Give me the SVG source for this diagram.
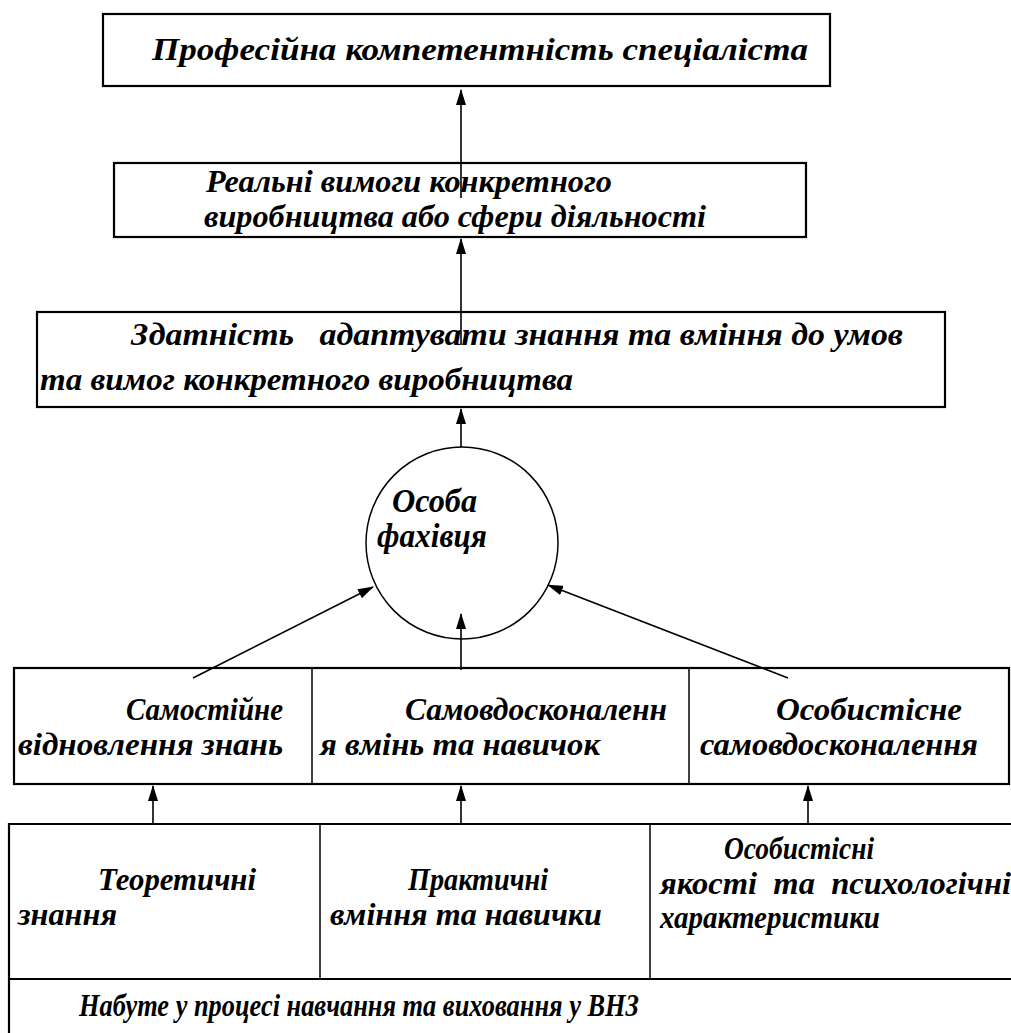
<svg xmlns="http://www.w3.org/2000/svg" width="1011" height="1033" viewBox="0 0 1011 1033">
<defs>
<style>
.box{fill:#fff;stroke:#000;stroke-width:2.2}
.div{stroke:#000;stroke-width:1.5;fill:none}
.con{stroke:#000;stroke-width:1.6;fill:none}
</style>
<marker id="ah" viewBox="0 0 16 10" refX="15" refY="5" markerWidth="16" markerHeight="10" markerUnits="userSpaceOnUse" orient="auto">
<path d="M0,0 L16,5 L0,10 Z" fill="#000"/>
</marker>
</defs>
<rect width="1011" height="1033" fill="#fff"/>
<g font-family="Liberation Serif, serif" font-weight="bold" font-style="italic" font-size="32" fill="#000">
<g id="n1">
<rect class="box" x="103" y="14" width="727" height="72"/>
<text x="152" y="60" textLength="656" lengthAdjust="spacingAndGlyphs">Професійна компетентність спеціаліста</text>
</g>
<g id="n2">
<rect class="box" x="114" y="163" width="692" height="74"/>
<text x="206" y="192" textLength="406" lengthAdjust="spacingAndGlyphs">Реальні вимоги конкретного</text>
<text x="204" y="227" textLength="502" lengthAdjust="spacingAndGlyphs">виробництва або сфери діяльності</text>
</g>
<g id="n3">
<rect class="box" x="37" y="312" width="908" height="95"/>
<text x="131" y="345" xml:space="preserve" textLength="772" lengthAdjust="spacingAndGlyphs">Здатність   адаптувати знання та вміння до умов</text>
<text x="40" y="390" textLength="533" lengthAdjust="spacingAndGlyphs">та вимог конкретного виробництва</text>
</g>
<g id="n4">
<circle class="div" cx="462" cy="543" r="96"/>
<text x="392" y="512" font-size="33" textLength="85" lengthAdjust="spacingAndGlyphs">Особа</text>
<text x="377" y="547" font-size="33" textLength="110" lengthAdjust="spacingAndGlyphs">фахівця</text>
</g>
<g id="n5">
<rect class="box" x="14" y="668" width="995" height="116"/>
<line class="div" x1="312" y1="668" x2="312" y2="784"/>
<line class="div" x1="689" y1="668" x2="689" y2="784"/>
<text x="126" y="720" textLength="157" lengthAdjust="spacingAndGlyphs">Самостійне</text>
<text x="18" y="755" textLength="265" lengthAdjust="spacingAndGlyphs">відновлення знань</text>
<text x="405" y="720" textLength="262" lengthAdjust="spacingAndGlyphs">Самовдосконаленн</text>
<text x="320" y="755" textLength="280" lengthAdjust="spacingAndGlyphs">я вмінь та навичок</text>
<text x="776" y="720" textLength="186" lengthAdjust="spacingAndGlyphs">Особистісне</text>
<text x="700" y="755" textLength="278" lengthAdjust="spacingAndGlyphs">самовдосконалення</text>
</g>
<g id="n6">
<path class="box" d="M1015,824 H9 V1040"/>
<line class="box" x1="9" y1="979" x2="1015" y2="979"/>
<line class="div" x1="320" y1="824" x2="320" y2="979"/>
<line class="div" x1="650" y1="824" x2="650" y2="979"/>
<text x="98" y="890" textLength="158" lengthAdjust="spacingAndGlyphs">Теоретичні</text>
<text x="18" y="925" textLength="99" lengthAdjust="spacingAndGlyphs">знання</text>
<text x="408" y="890" textLength="140" lengthAdjust="spacingAndGlyphs">Практичні</text>
<text x="330" y="925" textLength="272" lengthAdjust="spacingAndGlyphs">вміння та навички</text>
<text x="724" y="859" textLength="150" lengthAdjust="spacingAndGlyphs">Особистісні</text>
<text x="660" y="894" xml:space="preserve" textLength="351" lengthAdjust="spacingAndGlyphs">якості  та  психологічні</text>
<text x="660" y="928" textLength="220" lengthAdjust="spacingAndGlyphs">характеристики</text>
<text x="79" y="1016" textLength="560" lengthAdjust="spacingAndGlyphs">Набуте у процесі навчання та виховання у ВНЗ</text>
</g>
</g>
<g id="connectors">
<line class="con" x1="461" y1="198" x2="461" y2="90" marker-end="url(#ah)"/>
<line class="con" x1="461" y1="345" x2="461" y2="239" marker-end="url(#ah)"/>
<line class="con" x1="461" y1="447" x2="461" y2="409" marker-end="url(#ah)"/>
<line class="con" x1="461" y1="670" x2="461" y2="614" marker-end="url(#ah)"/>
<line class="con" x1="193" y1="678" x2="373" y2="587" marker-end="url(#ah)"/>
<line class="con" x1="788" y1="678" x2="548" y2="585" marker-end="url(#ah)"/>
<line class="con" x1="153" y1="824" x2="153" y2="786" marker-end="url(#ah)"/>
<line class="con" x1="461" y1="824" x2="461" y2="786" marker-end="url(#ah)"/>
<line class="con" x1="808" y1="824" x2="808" y2="786" marker-end="url(#ah)"/>
</g>
</svg>
